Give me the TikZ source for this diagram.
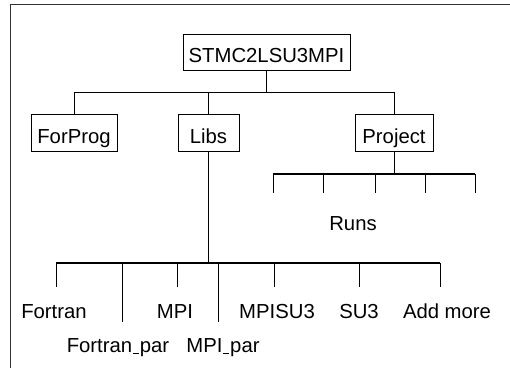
\documentclass[tikz,border=0pt]{standalone}
\usepackage{fontspec}
\setmainfont{Liberation Sans}
\newcommand\uscore{\kern0.04em\rule[-0.07em]{0.3em}{0.07em}\kern0.04em}
\begin{document}
\begin{tikzpicture}[x=1pt,y=-1pt,
  every node/.style={font=\fontsize{20.3}{24}\selectfont, inner sep=0pt},
  dirbox/.style={draw, line width=0.9pt, text height=20.5pt, text depth=0pt, minimum height=36.5pt},
  leaf/.style={anchor=base, text height=14.7pt, text depth=0pt, outer ysep=16.5pt},
  conn/.style={line width=0.9pt},
  bus/.style={line width=1.3pt},
  frame/.style={line width=1.6pt, draw=black!80}]
\useasboundingbox (0,0) rectangle (510,368);
% frame (top and left edges only)
\draw[frame] (510,4.5) -- (10.5,4.5) -- (10.5,368);
% top level
\node[dirbox, minimum width=167pt] (top) at (266.5,52.5) {STMC2LSU3MPI};
\node[dirbox, minimum width=86pt] (forprog) at (74,133) {ForProg};
\node[dirbox, minimum width=61pt] (libs) at (208.5,133) {Libs};
\node[dirbox, minimum width=78pt] (project) at (394,133) {Project};
\coordinate (hub) at (266.5,92);
\draw[conn] (top.south) -- (hub);
\draw[conn] (forprog.north) -- (forprog.north |- hub) -- (project.north |- hub) -- (project.north);
\draw[conn] (libs.north) -- (libs.north |- hub);
% Runs
\node[leaf, outer ysep=22pt] (runs) at (353,230) {Runs};
\draw[conn] (project.south) -- (394,174);
\foreach \x/\n in {273/r1,323/r2,375/r3,425/r4,475/r5}{
  \coordinate (\n) at (\x,174);
  \draw[conn] (\n) -- (\n |- runs.north);
}
\draw[bus] (r1) -- (r5);
% Libs leaves
\coordinate (lbus) at (208.5,263);
\draw[conn] (libs.south) -- (lbus);
\node[leaf] (fortran) at (54,318) {Fortran};
\node[leaf] (fortranpar) at (118,352.7) {Fortran\uscore par};
\node[leaf] (mpi) at (175,318) {MPI};
\node[leaf] (mpipar) at (223,352.7) {MPI\uscore par};
\node[leaf] (mpisu3) at (277,318) {MPISU3};
\node[leaf] (su3) at (359,318) {SU3};
\node[leaf] (addmore) at (447,318) {Add more};
\foreach \x/\n/\t in {56/t1/fortran,122/t2/fortranpar,177/t3/mpi,218/t4/mpipar,274/t5/mpisu3,359/t6/su3,440/t7/addmore}{
  \coordinate (\n) at (\x,263);
  \draw[conn] (\n) -- (\n |- \t.north);
}
\draw[bus] (t1) -- (t7);
\end{tikzpicture}
\end{document}
